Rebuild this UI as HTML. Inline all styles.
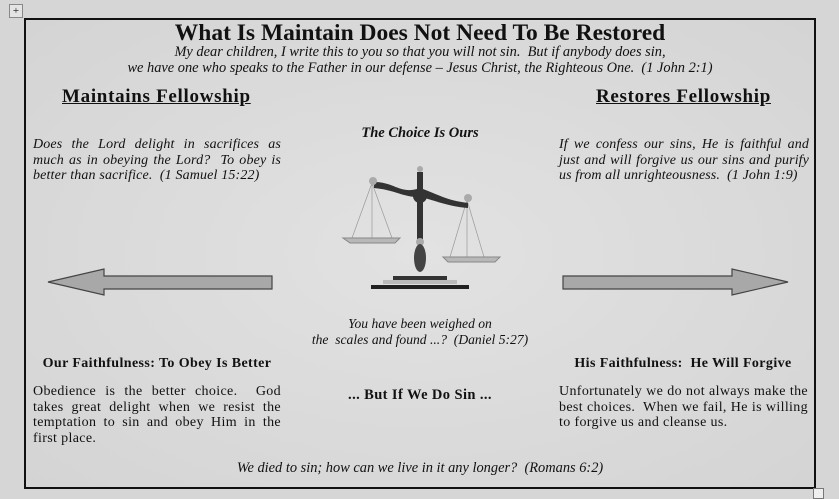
<!DOCTYPE html><html><head><style>
body{margin:0;width:839px;height:498px;background:#d6d6d6;font-family:"Liberation Serif",serif;color:#111;position:relative;overflow:hidden}
.a{position:absolute}
.c{text-align:center}
.j{text-align:justify;text-align-last:left;font-size:14px;letter-spacing:0.35px;line-height:15.5px}
i{font-style:italic}
</style></head><body>
<div class="a" style="left:9px;top:4px;width:12px;height:12px;border:1px solid #888;background:#e4e4e4;font-size:11px;line-height:12px;text-align:center">+</div>
<div class="a" style="left:24px;top:18px;width:788px;height:467px;border:2px solid #111;background:radial-gradient(ellipse at center,#e2e2e2,#d4d4d4)"></div>
<div class="a" style="left:813px;top:488px;width:9px;height:9px;border:1px solid #777;background:#eee"></div>
<div class="a c" style="left:26px;width:788px;top:20px;font-size:23.5px;font-weight:bold">What Is Maintain Does Not Need To Be Restored</div>
<div class="a c" style="left:26px;width:788px;top:44px;font-size:14.4px;line-height:16px;font-style:italic">My dear children, I write this to you so that you will not sin.&nbsp; But if anybody does sin,<br>we have one who speaks to the Father in our defense – Jesus Christ, the Righteous One.&nbsp; (1 John 2:1)</div>
<div class="a" style="left:62px;top:86px;font-size:19px;letter-spacing:0.7px;font-weight:bold;text-decoration:underline">Maintains Fellowship</div>
<div class="a" style="left:596px;top:86px;font-size:19px;letter-spacing:0.7px;font-weight:bold;text-decoration:underline">Restores Fellowship</div>
<div class="a c" style="left:320px;width:200px;top:125px;font-size:14.5px;font-weight:bold;font-style:italic">The Choice Is Ours</div>
<div class="a j" style="left:33px;width:248px;top:137px;font-style:italic;letter-spacing:0.15px">Does the Lord delight in sacrifices as much as in obeying the Lord?&nbsp; To obey is better than sacrifice.&nbsp; (1 Samuel 15:22)</div>
<div class="a j" style="left:559px;width:250px;top:137px;font-style:italic;letter-spacing:0.1px">If we confess our sins, He is faithful and just and will forgive us our sins and purify us from all unrighteousness.&nbsp; (1 John 1:9)</div>
<svg class="a" style="left:0;top:0" width="839" height="498">
<polygon points="272,276 104,276 104,269 48,282 104,295 104,289 272,289" fill="#a8a8a8" stroke="#444" stroke-width="1.2"/>
<polygon points="563,276 732,276 732,269 788,282 732,295 732,289 563,289" fill="#a8a8a8" stroke="#444" stroke-width="1.2"/>
<g stroke="#999" stroke-width="0.7" fill="none">
<line x1="372" y1="183" x2="352" y2="238"/><line x1="372" y1="183" x2="392" y2="238"/><line x1="372" y1="183" x2="372" y2="238"/>
<line x1="467" y1="200" x2="450" y2="257"/><line x1="467" y1="200" x2="484" y2="257"/><line x1="467" y1="200" x2="467" y2="257"/>
</g>
<path d="M343,238 H400 L395,243 H350Z" fill="#b8b8b8" stroke="#888"/>
<path d="M443,257 H500 L495,262 H448Z" fill="#b8b8b8" stroke="#888"/>
<path d="M374,182 C395,182 400,195 420,188 C440,195 445,200 468,203 L468,208 C445,206 435,200 420,197 C405,198 395,190 374,188Z" fill="#333"/>
<circle cx="420" cy="196" r="7" fill="#333"/>
<circle cx="420" cy="169" r="3" fill="#aaa"/><circle cx="373" cy="181" r="4" fill="#aaa"/><circle cx="468" cy="198" r="4" fill="#aaa"/>
<rect x="417" y="172" width="6" height="70" fill="#333"/>
<circle cx="420" cy="242" r="4" fill="#aaa"/>
<ellipse cx="420" cy="258" rx="6" ry="14" fill="#444"/>
<rect x="393" y="276" width="54" height="4" fill="#333"/>
<rect x="383" y="280" width="74" height="4" fill="#bbb"/>
<rect x="371" y="285" width="98" height="4" fill="#222"/>
</svg>
<div class="a c" style="left:260px;width:320px;top:316px;font-size:13.6px;line-height:16px;font-style:italic">You have been weighed on<br>the&nbsp; scales and found ...?&nbsp; (Daniel 5:27)</div>
<div class="a c" style="left:26px;width:262px;top:356px;font-size:14px;letter-spacing:0.4px;font-weight:bold">Our Faithfulness: To Obey Is Better</div>
<div class="a c" style="left:552px;width:262px;top:356px;font-size:14px;letter-spacing:0.4px;font-weight:bold">His Faithfulness:&nbsp; He Will Forgive</div>
<div class="a c" style="left:300px;width:240px;top:387px;font-size:14.5px;letter-spacing:0.4px;font-weight:bold">... But If We Do Sin ...</div>
<div class="a j" style="left:33px;width:248px;top:384px">Obedience is the better choice.&nbsp; God takes great delight when we resist the temptation to sin and obey Him in the first place.</div>
<div class="a j" style="left:559px;width:249px;top:384px">Unfortunately we do not always make the best choices.&nbsp; When we fail, He is willing to forgive us and cleanse us.</div>
<div class="a c" style="left:26px;width:788px;top:460px;font-size:14.4px;font-style:italic">We died to sin; how can we live in it any longer?&nbsp; (Romans 6:2)</div>
</body></html>
